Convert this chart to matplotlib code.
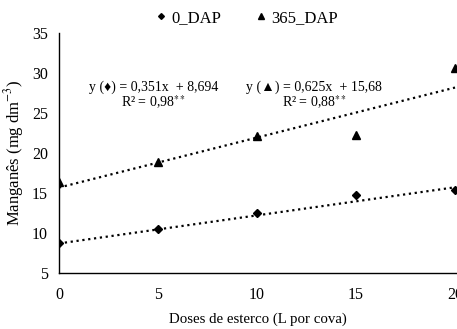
import matplotlib
matplotlib.use("Agg")
import matplotlib.pyplot as plt
import numpy as np

plt.rcParams['font.family'] = ['Liberation Serif', 'DejaVu Sans']
plt.rcParams['mathtext.fontset'] = 'stix'

# doses de esterco (L por cova)
doses = [0, 5, 10, 15, 20]
mn_0dap = [8.75, 10.5, 12.45, 14.8, 15.4]
mn_365dap = [16.4, 18.9, 22.1, 22.25, 30.6]

# coeficientes das retas ajustadas
coef_0dap = (0.351, 8.694)
coef_365dap = (0.625, 15.68)

fig = plt.figure(figsize=(4.57, 3.29), dpi=100)
ax = fig.add_axes([59 / 457, 56 / 329, 398 / 457, 240 / 329])

ax.plot(doses, mn_0dap, 'D', color='black', markersize=4.2, ls='none', label='0_DAP')
ax.plot(doses, mn_365dap, '^', color='black', markersize=5.5, ls='none', label='365_DAP')

xs = np.array([0, 20])
ax.plot(xs, coef_0dap[0] * xs + coef_0dap[1], ls=':', color='black', lw=1.6)
ax.plot(xs, coef_365dap[0] * xs + coef_365dap[1], ls=':', color='black', lw=1.6)

ax.set_xlim(0, 20.1)
ax.set_ylim(5, 35)
ax.set_xticks([0, 5, 10, 15, 20])
ax.set_yticks([5, 10, 15, 20, 25, 30, 35])
ax.tick_params(length=0, labelsize=11.5)
ax.tick_params(axis='x', pad=10)
ax.tick_params(axis='y', pad=8)
for s in ['top', 'right']:
    ax.spines[s].set_visible(False)
for s in ['left', 'bottom']:
    ax.spines[s].set_linewidth(1.0)

ax.set_xlabel('Doses de esterco (L por cova)', fontsize=10.7, labelpad=7)
ax.set_ylabel('Manganês (mg dm$^{-3}$)', fontsize=12, labelpad=4)

ax.text(4.8, 28.2, 'y (♦) = 0,351x  + 8,694', ha='center', va='center', fontsize=10)
ax.text(4.8, 26.3, 'R² = 0,98$^{**}$', ha='center', va='center', fontsize=10)
ax.text(12.9, 28.2, 'y (▲) = 0,625x  + 15,68', ha='center', va='center', fontsize=10)
ax.text(12.9, 26.3, 'R² = 0,88$^{**}$', ha='center', va='center', fontsize=10)

fig.legend(loc='upper center', bbox_to_anchor=(0.535, 1.015), ncol=2, frameon=False,
           fontsize=12, handletextpad=0.0, columnspacing=1.8, markerscale=0.7,
           handlelength=1.2)

fig.savefig('out.png', dpi=100)
